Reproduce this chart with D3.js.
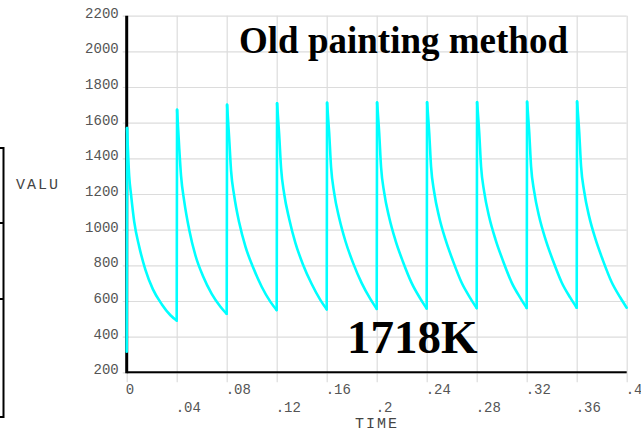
<!DOCTYPE html>
<html>
<head>
<meta charset="utf-8">
<script src="https://cdn.jsdelivr.net/npm/d3@7"></script>
<style>
  html, body { margin: 0; padding: 0; background: #fff; }
  svg { display: block; }
</style>
</head>
<body>
<svg id="chart" width="641" height="432"></svg>
<script>
// ---- Data ----
const cycleStart = [0, 0.04, 0.08, 0.12, 0.16, 0.20, 0.24, 0.28, 0.32, 0.36];
const cycleOffsets = [0, 0.0003, 0.002, 0.0035, 0.006, 0.01, 0.015, 0.021, 0.028, 0.035];
// per cycle: value at cycle start (previous minimum), peak, then decay samples
const cycleValues = [
  [315, 1570, 1300, 1195, 1045, 905, 775, 665, 582, 520],
  [490, 1672, 1460, 1300, 1160, 1000, 855, 740, 640, 568],
  [528, 1700, 1510, 1330, 1190, 1040, 905, 790, 680, 595],
  [549, 1709, 1530, 1345, 1200, 1060, 925, 805, 695, 605],
  [553, 1712, 1540, 1350, 1205, 1065, 935, 815, 700, 610],
  [556, 1713, 1542, 1350, 1208, 1068, 940, 820, 700, 612],
  [558, 1714, 1545, 1352, 1210, 1070, 945, 825, 702, 615],
  [560, 1715, 1546, 1353, 1212, 1071, 946, 826, 703, 616],
  [561, 1717, 1548, 1354, 1213, 1072, 947, 827, 704, 617],
  [562, 1718, 1549, 1355, 1214, 1073, 948, 828, 705, 618]
];
const finalTime = 0.4;
const finalValue = 562;

const yTicks = [200, 400, 600, 800, 1000, 1200, 1400, 1600, 1800, 2000, 2200];
const xTicks = [0, 0.04, 0.08, 0.12, 0.16, 0.2, 0.24, 0.28, 0.32, 0.36, 0.4];
const xTickLabels = ["0", ".04", ".08", ".12", ".16", ".2", ".24", ".28", ".32", ".36", ".4"];
const titleText = "Old painting method";
const noteText = "1718K";
const xLabel = "TIME";
const yLabel = "VALU";

// ---- Build pieces: steep rises (straight) and decays (smooth) ----
const rises = [];
const decays = [];
cycleStart.forEach((t0, i) => {
  const row = cycleValues[i];
  const endT = i + 1 < cycleStart.length ? cycleStart[i + 1] : finalTime;
  const endV = i + 1 < cycleValues.length ? cycleValues[i + 1][0] : finalValue;
  rises.push([{ t: t0 + cycleOffsets[0], v: row[0] }, { t: t0 + cycleOffsets[1], v: row[1] }]);
  const dec = [];
  for (let j = 1; j < row.length; j++) dec.push({ t: t0 + cycleOffsets[j], v: row[j] });
  dec.push({ t: endT, v: endV });
  decays.push(dec);
});

// ---- Layout ----
const svg = d3.select("#chart");
const x = d3.scaleLinear().domain([0, 0.4]).range([126.7, 626.7]);
const y = d3.scaleLinear().domain([200, 2200]).range([372.3, 15.7]);
const gridColor = "#dcdcdc";
const labelColor = "#555";
const monoFont = "'Liberation Mono', 'DejaVu Sans Mono', monospace";

// horizontal gridlines
svg.append("g")
  .attr("transform", `translate(${x(0.4)},0)`)
  .call(d3.axisLeft(y).tickValues(yTicks).tickSize(x(0.4) - x(0) + 4).tickFormat(""))
  .call(g => g.select(".domain").remove())
  .call(g => g.selectAll(".tick line").attr("stroke", gridColor).attr("stroke-width", 1.2));

// vertical gridlines (extend below axis as ticks)
svg.append("g")
  .attr("transform", `translate(0,${y(200) + 10})`)
  .call(d3.axisBottom(x).tickValues(xTicks).tickSize(-(y(200) + 10 - y(2200))).tickFormat(""))
  .call(g => g.select(".domain").remove())
  .call(g => g.selectAll(".tick line").attr("stroke", gridColor).attr("stroke-width", 1.2));

// y tick labels
svg.append("g")
  .attr("transform", `translate(${x(0)},-3)`)
  .call(d3.axisLeft(y).tickValues(yTicks).tickSize(0).tickPadding(8).tickFormat(d3.format("d")))
  .call(g => g.select(".domain").remove())
  .call(g => g.selectAll("text")
    .attr("font-family", monoFont).attr("font-size", 14).attr("fill", labelColor));

// x tick labels (alternating rows)
svg.append("g").selectAll("text")
  .data(xTicks)
  .join("text")
  .attr("x", d => x(d) - 1)
  .attr("y", (d, i) => i % 2 === 0 ? 394 : 411.5)
  .attr("font-family", monoFont)
  .attr("font-size", 14)
  .attr("fill", labelColor)
  .text((d, i) => xTickLabels[i]);

// axes lines
svg.append("line")
  .attr("x1", x(0)).attr("x2", x(0.4))
  .attr("y1", y(200)).attr("y2", y(200))
  .attr("stroke", "#000").attr("stroke-width", 2);
svg.append("line")
  .attr("x1", x(0)).attr("x2", x(0))
  .attr("y1", y(2200)).attr("y2", y(200) + 1)
  .attr("stroke", "#000").attr("stroke-width", 3);

// data line
const straight = d3.line().x(d => x(d.t)).y(d => y(d.v));
const smooth = d3.line().x(d => x(d.t)).y(d => y(d.v)).curve(d3.curveMonotoneX);
const dataG = svg.append("g")
  .attr("fill", "none")
  .attr("stroke", "#00ffff")
  .attr("stroke-width", 2.6)
  .attr("stroke-linejoin", "round")
  .attr("stroke-linecap", "round");
dataG.selectAll("path.rise").data(rises).join("path").attr("class", "rise").attr("d", straight);
dataG.selectAll("path.decay").data(decays).join("path").attr("class", "decay").attr("d", smooth);

// axis titles
svg.append("text")
  .attr("x", 377).attr("y", 428)
  .attr("text-anchor", "middle")
  .attr("font-family", monoFont).attr("font-size", 15)
  .attr("letter-spacing", 2)
  .attr("fill", "#444")
  .text(xLabel);
svg.append("text")
  .attr("x", 16).attr("y", 189)
  .attr("font-family", monoFont).attr("font-size", 15)
  .attr("letter-spacing", 2)
  .attr("fill", "#444")
  .text(yLabel);

// left bracket (partial legend frame)
svg.append("path")
  .attr("d", "M0,148H3.5V417H0M0,223H3.5M0,299H3.5")
  .attr("fill", "none").attr("stroke", "#000").attr("stroke-width", 2);

// annotations
svg.append("text")
  .attr("x", 239).attr("y", 53)
  .attr("font-family", "'Liberation Serif', 'Times New Roman', serif")
  .attr("font-weight", "bold").attr("font-size", 37)
  .attr("fill", "#000")
  .text(titleText);
svg.append("text")
  .attr("x", 347).attr("y", 353)
  .attr("font-family", "'Liberation Serif', 'Times New Roman', serif")
  .attr("font-weight", "bold").attr("font-size", 47)
  .attr("fill", "#000")
  .text(noteText);
</script>
</body>
</html>
